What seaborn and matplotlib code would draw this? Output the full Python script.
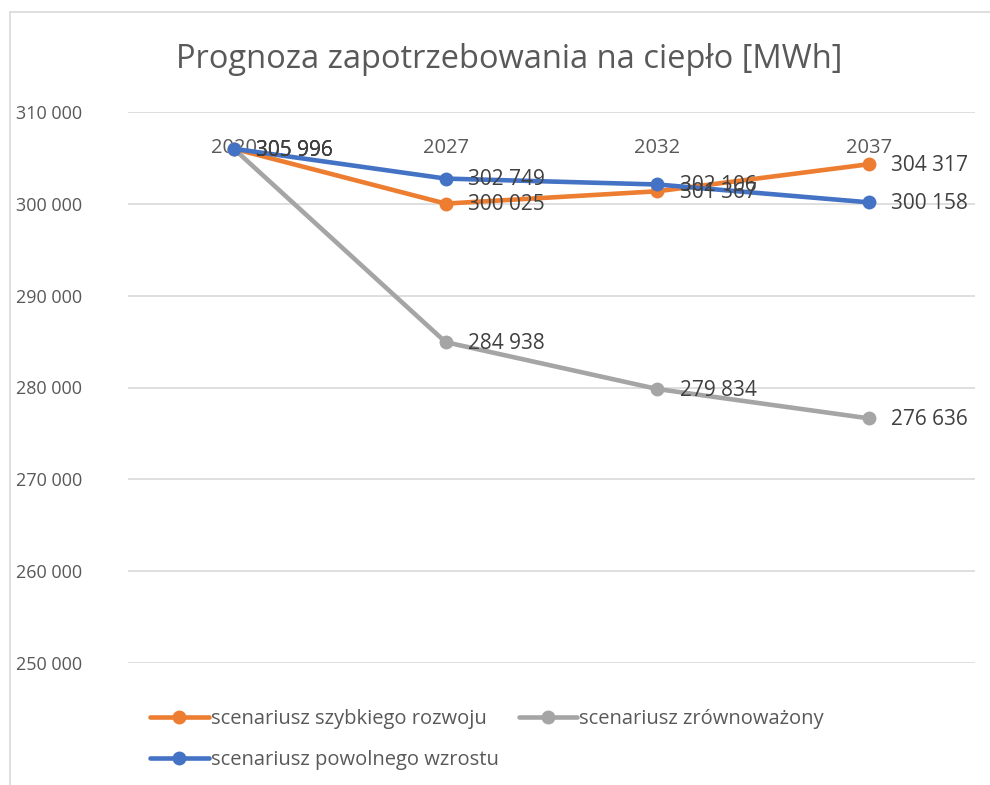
import matplotlib
matplotlib.use("Agg")
import matplotlib.pyplot as plt
import seaborn as sns
import pandas as pd
from matplotlib.ticker import FuncFormatter
from matplotlib.patches import Rectangle

years = ["2020", "2027", "2032", "2037"]
series_names = ["scenariusz szybkiego rozwoju", "scenariusz zrównoważony", "scenariusz powolnego wzrostu"]
fast = [305996, 300025, 301367, 304317]
sustainable = [305996, 284938, 279834, 276636]
slow = [305996, 302749, 302106, 300158]
yticks = [250000, 260000, 270000, 280000, 290000, 300000, 310000]
title = "Prognoza zapotrzebowania na ciepło [MWh]"

colors = ["#ED7D31", "#A5A5A5", "#4472C4"]
text_color = "#595959"

rows = []
for name, vals in zip(series_names, [fast, sustainable, slow]):
    for y, v in zip(years, vals):
        rows.append({"rok": y, "wartość": v, "scenariusz": name})
df = pd.DataFrame(rows)

sns.set_theme(style="white")
plt.rcParams["font.family"] = ["Open Sans", "DejaVu Sans"]

fig = plt.figure(figsize=(9.9, 7.85), dpi=100)
ax = fig.add_axes([128/990, 1 - 663/785, (975-128)/990, (663-112)/785])

fig.patches.append(Rectangle((10/990, -0.1), 1.5, 1 - 12/785 + 0.1, transform=fig.transFigure,
                             fill=False, edgecolor="#D9D9D9", linewidth=1.2))

sns.lineplot(data=df, x="rok", y="wartość", hue="scenariusz", hue_order=series_names,
             palette=colors, marker="o", markersize=10, markeredgewidth=0,
             linewidth=3.3, ax=ax, sort=False)

ax.set_xlim(-0.5, 3.5)
ax.set_ylim(250000, 310000)
ax.set_yticks(yticks)
ax.yaxis.set_major_formatter(FuncFormatter(lambda v, p: f"{int(v):,}".replace(",", " ")))
ax.grid(axis="y", color="#D9D9D9", linewidth=1.2)
ax.grid(axis="x", visible=False)
for s in ax.spines.values():
    s.set_visible(False)
ax.tick_params(axis="y", length=0, pad=33, labelsize=13, labelcolor=text_color)
ax.xaxis.tick_top()
ax.tick_params(axis="x", length=0, pad=-33, labelsize=14.5, labelcolor=text_color)
ax.set_xlabel("")
ax.set_ylabel("")
for lbl in ax.get_yticklabels():
    lbl.set_horizontalalignment("right")

for name, vals in zip(series_names, [fast, sustainable, slow]):
    for i, v in enumerate(vals):
        ax.annotate(f"{v:,}".replace(",", " "), (i, v), xytext=(16, -1), textcoords="offset points",
                    ha="left", va="center", fontsize=15, color="#404040")

fig.text(509/990, 1 - 60/785, title, ha="center", va="center", fontsize=23.5, color=text_color)

handles, labels = ax.get_legend_handles_labels()
ax.legend_.remove()
order = [0, 2, 1]
fig.legend([handles[i] for i in order], [labels[i] for i in order], ncol=2, loc="upper left",
           bbox_to_anchor=(132/990, 1 - 691/785),
           frameon=False, fontsize=14.5, labelcolor=text_color, handlelength=2.9,
           handletextpad=0.1, columnspacing=1.0, labelspacing=1.05)

fig.savefig("out.png", dpi=100, facecolor="white")
